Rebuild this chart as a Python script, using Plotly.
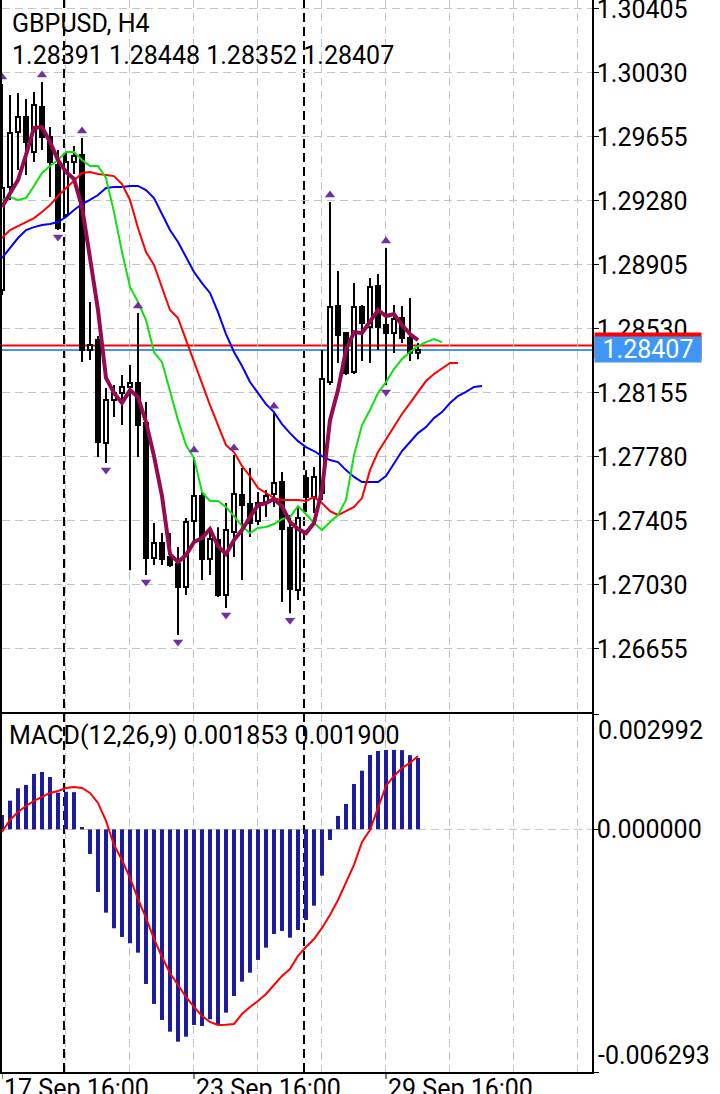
import plotly.graph_objects as go

# ---------------- data ----------------
symbol_title = "GBPUSD, H4"
ohlc_text = "1.28391 1.28448 1.28352 1.28407"
macd_text = "MACD(12,26,9) 0.001853 0.001900"

opens = [1.28758, 1.29362, 1.29684, 1.29772, 1.29567, 1.29831, 1.29655, 1.29491, 1.29198, 1.29508,
         1.29549, 1.28407, 1.28465, 1.27862, 1.28114, 1.28155, 1.28190, 1.28213, 1.27979, 1.27188,
         1.27276, 1.27194, 1.27153, 1.27018, 1.27405, 1.27551, 1.27182, 1.27293, 1.26971, 1.27340,
         1.27557, 1.27504, 1.27405, 1.27516, 1.27563, 1.27633, 1.27364, 1.27000, 1.27657, 1.27545,
         1.27569, 1.28219, 1.28664, 1.28506, 1.28278, 1.28659, 1.28542, 1.28782, 1.28553, 1.28506,
         1.28594, 1.28477, 1.28391]
highs = [1.29966, 1.29901, 1.29913, 1.29878, 1.29919, 1.29977, 1.29713, 1.29579, 1.29567, 1.29602,
         1.29649, 1.28688, 1.28489, 1.28184, 1.28202, 1.28260, 1.28319, 1.28623, 1.28102, 1.27393,
         1.27334, 1.27334, 1.27252, 1.27422, 1.27780, 1.27575, 1.27352, 1.27369, 1.27510, 1.27791,
         1.27715, 1.27715, 1.27575, 1.27586, 1.28037, 1.27692, 1.27440, 1.27481, 1.27703, 1.27721,
         1.28407, 1.29274, 1.28870, 1.28512, 1.28799, 1.28670, 1.28829, 1.28852, 1.29004, 1.28670,
         1.28664, 1.28711, 1.28448]
lows = [1.28729, 1.29286, 1.29461, 1.29432, 1.29508, 1.29579, 1.29303, 1.29110, 1.29186, 1.29438,
        1.28336, 1.28348, 1.27780, 1.27745, 1.28014, 1.27967, 1.27117, 1.27780, 1.27088, 1.27147,
        1.27147, 1.27135, 1.26737, 1.26971, 1.27293, 1.27059, 1.27088, 1.26959, 1.26895, 1.27194,
        1.27059, 1.27311, 1.27381, 1.27428, 1.27487, 1.26930, 1.26865, 1.26942, 1.27457, 1.27452,
        1.27528, 1.28202, 1.28331, 1.28260, 1.28266, 1.28342, 1.28331, 1.28407, 1.28202, 1.28389,
        1.28448, 1.28342, 1.28352]
closes = [1.29356, 1.29678, 1.29772, 1.29626, 1.29842, 1.29655, 1.29508, 1.29122, 1.29508, 1.29543,
          1.28407, 1.28436, 1.27868, 1.28114, 1.28155, 1.28190, 1.28213, 1.27967, 1.27188, 1.27276,
          1.27182, 1.27147, 1.27018, 1.27399, 1.27551, 1.27182, 1.27299, 1.26971, 1.27352, 1.27563,
          1.27498, 1.27393, 1.27510, 1.27551, 1.27627, 1.27358, 1.27006, 1.27422, 1.27545, 1.27663,
          1.28237, 1.28659, 1.28495, 1.28272, 1.28659, 1.28565, 1.28776, 1.28542, 1.28506, 1.28588,
          1.28477, 1.28391, 1.28407]

# Alligator lines (drawn with their forward shift, so they run past the last bar)
lips_green = [1.29286, 1.29303, 1.29286, 1.29297, 1.29368, 1.29444, 1.29485, 1.29520, 1.29567, 1.29567,
              1.29520, 1.29485, 1.29485, 1.29415, 1.29215, 1.28981, 1.28776, 1.28688, 1.28582, 1.28395,
              1.28336, 1.28161, 1.27996, 1.27850, 1.27774, 1.27575, 1.27522, 1.27522, 1.27487, 1.27434,
              1.27375, 1.27334, 1.27364, 1.27370, 1.27387, 1.27416, 1.27428, 1.27492, 1.27446, 1.27393,
              1.27352, 1.27399, 1.27440, 1.27528, 1.27791, 1.27967, 1.28055, 1.28155, 1.28219, 1.28295,
              1.28354, 1.28395, 1.28430, 1.28453, 1.28471, 1.28453]
teeth_red = [1.29063, 1.29110, 1.29133, 1.29157, 1.29180, 1.29215, 1.29256, 1.29309, 1.29356, 1.29403,
             1.29444, 1.29450, 1.29438, 1.29432, 1.29426, 1.29379, 1.29286, 1.29122, 1.28981, 1.28905,
             1.28776, 1.28641, 1.28594, 1.28465, 1.28331, 1.28213, 1.28084, 1.27967, 1.27850, 1.27809,
             1.27727, 1.27668, 1.27598, 1.27569, 1.27539, 1.27528, 1.27528, 1.27528, 1.27522, 1.27545,
             1.27510, 1.27463, 1.27440, 1.27463, 1.27487, 1.27539, 1.27703, 1.27809, 1.27885, 1.27961,
             1.28032, 1.28096, 1.28161, 1.28225, 1.28266, 1.28301, 1.28331, 1.28331]
jaw_blue = [1.28946, 1.29004, 1.29063, 1.29110, 1.29127, 1.29139, 1.29145, 1.29157, 1.29186, 1.29227,
            1.29262, 1.29286, 1.29315, 1.29356, 1.29362, 1.29362, 1.29368, 1.29368, 1.29344, 1.29297,
            1.29204, 1.29110, 1.29040, 1.28952, 1.28864, 1.28799, 1.28741, 1.28629, 1.28500, 1.28395,
            1.28313, 1.28219, 1.28155, 1.28090, 1.28043, 1.27973, 1.27920, 1.27873, 1.27838, 1.27815,
            1.27785, 1.27762, 1.27750, 1.27703, 1.27663, 1.27633, 1.27633, 1.27633, 1.27668, 1.27745,
            1.27815, 1.27868, 1.27920, 1.27955, 1.28008, 1.28043, 1.28096, 1.28137, 1.28161, 1.28190,
            1.28196]
fast_ma_maroon = [1.29245, 1.29327, 1.29403, 1.29550, 1.29708, 1.29713, 1.29626, 1.29520, 1.29450, 1.29409,
                  1.29245, 1.28946, 1.28641, 1.28243, 1.28155, 1.28096, 1.28172, 1.28131, 1.27985, 1.27785,
                  1.27551, 1.27211, 1.27164, 1.27205, 1.27282, 1.27305, 1.27358, 1.27258, 1.27211, 1.27293,
                  1.27352, 1.27428, 1.27498, 1.27510, 1.27534, 1.27492, 1.27399, 1.27358, 1.27334, 1.27393,
                  1.27586, 1.27996, 1.28172, 1.28407, 1.28512, 1.28506, 1.28571, 1.28641, 1.28606, 1.28618,
                  1.28553, 1.28500, 1.28465]

fractal_up_bars = [0, 5, 10, 17, 24, 29, 34, 41, 48]
fractal_down_bars = [7, 13, 18, 22, 28, 36, 48]

macd_hist = [0.000373, 0.000744, 0.001066, 0.001152, 0.001437, 0.001489, 0.001359, 0.000952, 0.000975, 0.000965,
             0.000062, -0.000638, -0.001624, -0.002160, -0.002565, -0.002791, -0.002954, -0.003198, -0.004010, -0.004528,
             -0.004943, -0.005247, -0.005506, -0.005377, -0.005073, -0.005099, -0.004925, -0.005047, -0.004754, -0.004321,
             -0.003950, -0.003717, -0.003387, -0.003068, -0.002713, -0.002635, -0.002809, -0.002609, -0.002350, -0.001979,
             -0.001201, -0.000275, 0.000348, 0.000659, 0.001177, 0.001522, 0.001930, 0.002033, 0.002059, 0.002062,
             0.002055, 0.001925, 0.001853]
macd_signal = [-0.000067, 0.000244, 0.000451, 0.000607, 0.000737, 0.000840, 0.000944, 0.000996, 0.001074, 0.001100,
               0.001074, 0.000944, 0.000685, 0.000218, -0.000405, -0.000794, -0.001260, -0.001805, -0.002298, -0.002843,
               -0.003309, -0.003724, -0.004036, -0.004347, -0.004606, -0.004840, -0.004995, -0.005073, -0.005070, -0.005047,
               -0.004788, -0.004606, -0.004451, -0.004269, -0.004036, -0.003802, -0.003621, -0.003283, -0.003050, -0.002843,
               -0.002557, -0.002220, -0.001831, -0.001390, -0.000923, -0.000327, -0.000016, 0.000555, 0.001126, 0.001385,
               0.001592, 0.001722, 0.001900]

price_ticks = [1.30405, 1.30030, 1.29655, 1.29280, 1.28905, 1.28530, 1.28155, 1.27780, 1.27405, 1.27030, 1.26655]
macd_top, macd_bottom = 0.002992, -0.006293
bid_price = 1.28407
ask_price = 1.28433
date_labels = ["17 Sep 16:00", "23 Sep 16:00", "29 Sep 16:00"]
date_label_bars = [0, 24, 48]
period_separators = [7.75, 37.75]

# ---------------- styling ----------------
FONT = "Roboto"
FS = 25
GRID = "#c4c4c4"
GRID_DASH = "8px,5px"
PURPLE = "#7030a0"
NAVY = "#1c1c9e"
BID_BLUE = "#3f97f5"
X_RANGE = [0, 73.75]
Y_RANGE = [1.262858, 1.304577]
FRACTAL_OFFSET = 0.00041
BODY_W = 0.5

bars = list(range(len(opens)))
bull = [i for i in bars if closes[i] >= opens[i]]
bear = [i for i in bars if closes[i] < opens[i]]

fig = go.Figure()

# candle bodies (hollow = up bar, filled = down bar)
fig.add_trace(go.Bar(x=bull, base=[opens[i] for i in bull], y=[closes[i] - opens[i] for i in bull],
                     width=BODY_W, marker=dict(color="white", line=dict(color="black", width=2)),
                     hoverinfo="skip", showlegend=False, xaxis="x", yaxis="y"))
fig.add_trace(go.Bar(x=bear, base=[closes[i] for i in bear], y=[opens[i] - closes[i] for i in bear],
                     width=BODY_W, marker=dict(color="black", line=dict(color="black", width=2)),
                     hoverinfo="skip", showlegend=False, xaxis="x", yaxis="y"))
# candle wicks (upper and lower, outside the body)
wx, wy = [], []
for i in bars:
    top, bot = max(opens[i], closes[i]), min(opens[i], closes[i])
    wx += [i, i, None, i, i, None]
    wy += [highs[i], top, None, bot, lows[i], None]
fig.add_trace(go.Scatter(x=wx, y=wy, mode="lines", line=dict(color="black", width=2),
                         hoverinfo="skip", showlegend=False, xaxis="x", yaxis="y"))

for series, color, width in [(jaw_blue, "#0000ff", 2), (teeth_red, "#ff0000", 2),
                             (lips_green, "#10e010", 2), (fast_ma_maroon, "#960a50", 4)]:
    fig.add_trace(go.Scatter(x=list(range(len(series))), y=series, mode="lines",
                             line=dict(color=color, width=width), hoverinfo="skip",
                             showlegend=False, xaxis="x", yaxis="y"))

fig.add_trace(go.Scatter(x=fractal_up_bars, y=[highs[i] + FRACTAL_OFFSET for i in fractal_up_bars],
                         mode="markers", marker=dict(symbol="triangle-up", size=9, color=PURPLE),
                         hoverinfo="skip", showlegend=False, xaxis="x", yaxis="y"))
fig.add_trace(go.Scatter(x=fractal_down_bars, y=[lows[i] - FRACTAL_OFFSET for i in fractal_down_bars],
                         mode="markers", marker=dict(symbol="triangle-down", size=9, color=PURPLE),
                         hoverinfo="skip", showlegend=False, xaxis="x", yaxis="y"))

fig.add_trace(go.Bar(x=bars, y=macd_hist, width=0.5, marker=dict(color=NAVY, line=dict(width=0)),
                     hoverinfo="skip", showlegend=False, xaxis="x2", yaxis="y2"))
fig.add_trace(go.Scatter(x=bars, y=macd_signal, mode="lines", line=dict(color="#ff0000", width=2),
                         hoverinfo="skip", showlegend=False, xaxis="x2", yaxis="y2"))

grid_x = [8 * j - 0.125 for j in range(1, 10)]
H_PLOT = 1072.0
main_dom = [(H_PLOT - 712) / H_PLOT, 1.0]
macd_dom = [0.0, (H_PLOT - 714) / H_PLOT]

axis_common = dict(showline=True, linecolor="black", linewidth=1.5, zeroline=False,
                   fixedrange=True, automargin=False)

fig.update_layout(
    width=720, height=1094,
    margin=dict(l=2, r=128, t=0, b=22, pad=0, autoexpand=False),
    paper_bgcolor="white", plot_bgcolor="white",
    showlegend=False, hovermode=False, barmode="overlay",
    font=dict(family=FONT, size=FS, color="black"),
    xaxis=dict(domain=[0, 1], range=X_RANGE, anchor="y", tickvals=grid_x, showticklabels=False,
               ticks="", showgrid=True, gridcolor=GRID, gridwidth=1, griddash=GRID_DASH,
               mirror=False, **axis_common),
    yaxis=dict(domain=main_dom, range=Y_RANGE, anchor="x", side="right",
               tickvals=price_ticks, ticktext=[f"{v:.5f}" for v in price_ticks],
               ticks="outside", ticklen=5, tickwidth=1, tickcolor="black",
               ticklabeloverflow="allow", ticklabelstandoff=-7,
               showgrid=True, gridcolor=GRID, gridwidth=1, griddash=GRID_DASH,
               mirror=True, tickfont=dict(family=FONT, size=FS, color="black"), **axis_common),
    xaxis2=dict(domain=[0, 1], range=X_RANGE, anchor="y2", tickvals=grid_x, showticklabels=False,
                ticks="", showgrid=True, gridcolor=GRID, gridwidth=1, griddash=GRID_DASH,
                mirror=True, **axis_common),
    yaxis2=dict(domain=macd_dom, range=[macd_bottom, macd_top], anchor="x2", side="right",
                tickvals=[macd_top, 0, macd_bottom], ticktext=["", "0.000000", ""],
                ticks="outside", ticklen=5, tickwidth=1, tickcolor="black",
                ticklabeloverflow="allow", ticklabelstandoff=-7,
                showgrid=False, mirror=True, tickfont=dict(family=FONT, size=FS, color="black"),
                **axis_common),
)

shapes = []
# MACD zero level
shapes.append(dict(type="line", xref="paper", yref="y2", x0=0, x1=1, y0=0, y1=0,
                   line=dict(color=GRID, width=1, dash=GRID_DASH), layer="below"))
# period separators across both panes
for s in period_separators:
    shapes.append(dict(type="line", xref="x", yref="paper", x0=s, x1=s, y0=0, y1=1,
                       line=dict(color="black", width=2, dash="9px,5px"), layer="below"))
# bid / ask lines
shapes.append(dict(type="line", xref="paper", yref="y", x0=0, x1=1, y0=ask_price, y1=ask_price,
                   line=dict(color="#ff0000", width=2), layer="below"))
shapes.append(dict(type="line", xref="paper", yref="y", x0=0, x1=1, y0=bid_price, y1=bid_price,
                   line=dict(color=BID_BLUE, width=2), layer="below"))
# time axis tick marks
for b in date_label_bars:
    shapes.append(dict(type="line", xref="x2", yref="paper", x0=b, x1=b, y0=0, y1=-7 / H_PLOT,
                       line=dict(color="black", width=1)))
fig.update_layout(shapes=shapes)

ann = []
ann.append(dict(text=symbol_title, xref="paper", yref="paper", x=8 / 590, y=1 - 23 / H_PLOT,
                xanchor="left", yanchor="middle", showarrow=False, font=dict(size=FS)))
ann.append(dict(text=ohlc_text, xref="paper", yref="paper", x=8 / 590, y=1 - 55 / H_PLOT,
                xanchor="left", yanchor="middle", showarrow=False, font=dict(size=FS)))
ann.append(dict(text=macd_text, xref="paper", yref="paper", x=5 / 590, y=1 - 735 / H_PLOT,
                xanchor="left", yanchor="middle", showarrow=False, font=dict(size=FS)))
# MACD scale end labels
ann.append(dict(text=f"{macd_top:.6f}", xref="paper", yref="y2", x=1, xshift=4, y=macd_top,
                xanchor="left", yanchor="top", showarrow=False, font=dict(size=FS)))
ann.append(dict(text=f"{macd_bottom:.6f}", xref="paper", yref="y2", x=1, xshift=4, y=macd_bottom,
                xanchor="left", yanchor="bottom", showarrow=False, font=dict(size=FS)))
# ask tag (mostly hidden under the bid tag) and bid tag
ann.append(dict(text=" ", xref="paper", yref="y", x=1, xshift=2, y=ask_price,
                xanchor="left", yanchor="middle", showarrow=False, bgcolor="#ff0000",
                width=106, height=25, borderpad=0, font=dict(size=FS, color="white")))
ann.append(dict(text=f"{bid_price:.5f}", xref="paper", yref="y", x=1, xshift=2, y=bid_price,
                xanchor="left", yanchor="middle", showarrow=False, bgcolor=BID_BLUE,
                width=106, height=25, borderpad=0, font=dict(size=FS, color="white")))
# time labels
for lbl, b in zip(date_labels, date_label_bars):
    ann.append(dict(text=lbl, xref="x2", yref="paper", x=b, y=0, yshift=0,
                    xanchor="left", yanchor="top", showarrow=False, font=dict(size=FS)))
fig.update_layout(annotations=ann)

# remove the browser's default page margin so the figure sits at the window's top-left corner
fig.write_html("out.html", config={"displayModeBar": False},
               post_script="document.body.style.margin='0';document.body.style.padding='0';")
